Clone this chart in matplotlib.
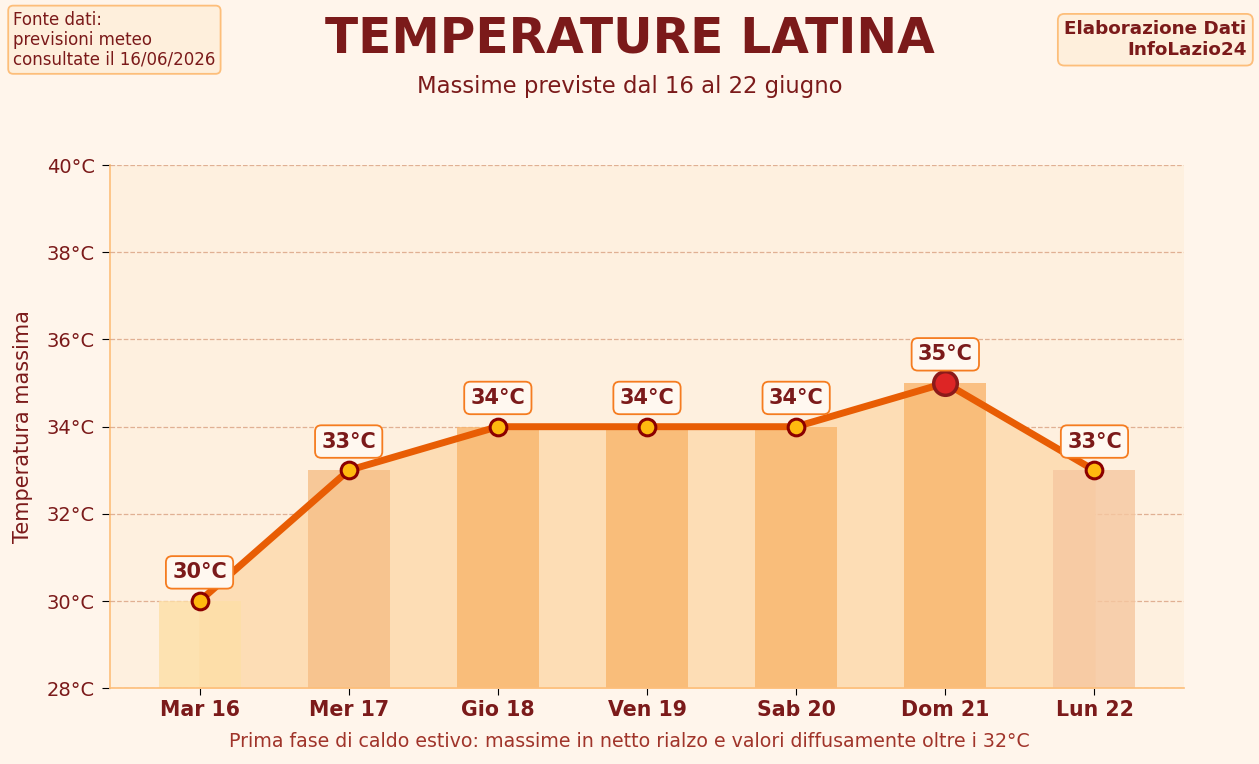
import numpy as np
import matplotlib.pyplot as plt

plt.rcParams['font.family'] = ['DejaVu Sans']

# Data
giorni = ["Mar 16", "Mer 17", "Gio 18", "Ven 19", "Sab 20", "Dom 21", "Lun 22"]
temp_max = [30, 33, 34, 34, 34, 35, 33]
bar_colors = ["#FDDFA6", "#F6BE86", "#F9B56C", "#F9B56C", "#F9B56C", "#F9B56C", "#F6C7A0"]

dark_red = "#7B1A1A"
bg = "#FFF5EB"

fig = plt.figure(figsize=(12.59, 7.64), dpi=100, facecolor=bg)
ax = fig.add_axes([0.0874, 0.099, 0.853, 0.685])
ax.set_facecolor("#FEF0DF")

x = np.arange(len(giorni))

# area under the line
ax.fill_between(x, 28, temp_max, color="#FDDDB5", zorder=1)

# bars
ax.bar(x, [t - 28 for t in temp_max], bottom=28, width=0.55,
       color=bar_colors, alpha=0.8, zorder=2)

# line
ax.plot(x, temp_max, color="#E85D04", lw=5, zorder=3, solid_capstyle="round")

# points
i_max = int(np.argmax(temp_max))
for i, t in enumerate(temp_max):
    if i == i_max:
        ax.plot(i, t, "o", ms=17, mfc="#DD2525", mec="#8B1A1A", mew=2.5, zorder=5)
    else:
        ax.plot(i, t, "o", ms=12, mfc="#FFB90F", mec="#8B0000", mew=2.2, zorder=4)
    ax.annotate(f"{t}°C", (i, t), xytext=(0, 13.5), textcoords="offset points",
                ha="center", va="bottom", fontsize=15, fontweight="bold", color=dark_red,
                bbox=dict(boxstyle="round,pad=0.3", fc="#FFF8F0", ec="#F57C20", lw=1.3),
                zorder=6)

ax.set_xlim(-0.6, 6.6)
ax.set_ylim(28, 40)
ax.set_yticks(range(28, 41, 2))
ax.set_yticklabels([f"{v}°C" for v in range(28, 41, 2)], fontsize=14, color=dark_red)
ax.tick_params(axis="y", length=6, pad=5)
ax.tick_params(axis="x", length=5)
ax.set_xticks(x)
ax.set_xticklabels(giorni, fontsize=14.8, fontweight="bold", color=dark_red)
ax.set_ylabel("Temperatura massima", fontsize=15, color=dark_red, labelpad=10)

ax.grid(axis="y", ls="--", color="#D9A080", alpha=0.8, lw=0.9, zorder=0)
ax.set_axisbelow(True)
for s in ["top", "right"]:
    ax.spines[s].set_visible(False)
for s in ["left", "bottom"]:
    ax.spines[s].set_color("#FDBE7A")
    ax.spines[s].set_linewidth(1.2)

# titles
fig.text(0.5, 0.950, "TEMPERATURE LATINA", ha="center", va="center",
         fontsize=35, fontweight="bold", color=dark_red)
fig.text(0.5, 0.887, "Massime previste dal 16 al 22 giugno", ha="center", va="center",
         fontsize=16.4, color=dark_red)

fig.text(0.0105, 0.948, "Fonte dati:\nprevisioni meteo\nconsultate il 16/06/2026",
         ha="left", va="center", fontsize=12, color=dark_red, linespacing=1.15,
         bbox=dict(boxstyle="round,pad=0.3", fc="#FEEFDC", ec="#FDBE7A", lw=1.3))
fig.text(0.990, 0.948, "Elaborazione Dati\nInfoLazio24",
         ha="right", va="center", fontsize=13.2, fontweight="bold", color=dark_red,
         linespacing=1.2,
         bbox=dict(boxstyle="round,pad=0.35", fc="#FEEFDC", ec="#FDBE7A", lw=1.3))

fig.text(0.5, 0.030, "Prima fase di caldo estivo: massime in netto rialzo e valori diffusamente oltre i 32°C",
         ha="center", va="center", fontsize=13.7, color="#A0342A")

plt.savefig("out.png", dpi=100, facecolor=bg)
